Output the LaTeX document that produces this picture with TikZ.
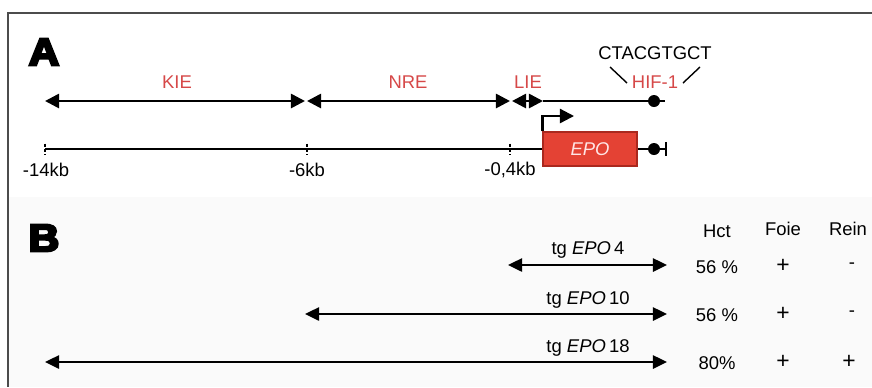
\documentclass[tikz,border=0pt]{standalone}
\usepackage{fontspec}
\setmainfont{Liberation Sans}
\newfontfamily\panelfont[FakeBold=6]{Liberation Sans Bold}
\usetikzlibrary{arrows.meta}
\definecolor{epored}{RGB}{228,66,52}
\definecolor{eporim}{RGB}{170,40,30}
\definecolor{labelred}{RGB}{214,72,72}
\definecolor{paneltint}{RGB}{250,250,250}
\tikzset{
  region/.style={line width=1.5pt, {Triangle[length=8pt,width=8pt]}-{Triangle[length=8pt,width=8pt]}},
  construct/.style={line width=1.2pt, {Triangle[length=8pt,width=7.5pt]}-{Triangle[length=8pt,width=7.5pt]}},
  chrom/.style={line width=1.1pt},
  tick/.style={line width=1pt, dash pattern=on 2pt off 1pt},
  site/.style={circle, fill=black, inner sep=0pt, minimum size=0.24cm},
  epobox/.style={draw=eporim, fill=epored, line width=0.6pt, minimum width=1.88cm, minimum height=0.68cm, inner sep=0pt, text=red!10},
  redlab/.style={text=labelred, font=\fontsize{10.5}{12}\selectfont},
  lab/.style={font=\fontsize{10.5}{12}\selectfont},
  sign/.style={font=\fontsize{13}{14}\selectfont},
  panel/.style={font=\panelfont\fontsize{22}{24}\selectfont, xscale=1.1},
}

\begin{document}
\begin{tikzpicture}[x=0.02cm, y=-0.02cm]
  \useasboundingbox (0,0) rectangle (872,387);
  % frame and shaded panel B
  \fill[paneltint] (8,197) rectangle (872,387);
  \draw[line width=0.7pt, black!70] (872,13) -- (8,13) -- (8,387);
  % panel letters
  \node[panel] (pA) at (44,52) {A};
  \node[panel] (pB) at (44,238) {B};
  % regulatory regions
  \coordinate (kieL) at (45,101);
  \coordinate (kieR) at (305,101);
  \coordinate (nreL) at (307,101);
  \coordinate (nreR) at (510,101);
  \coordinate (lieL) at (512,101);
  \coordinate (lieR) at (543,101);
  \coordinate (hifEnd) at (665,101);
  \draw[region] (kieL) -- (kieR);
  \draw[region] (nreL) -- (nreR);
  \draw[region] (lieL) -- (lieR);
  \draw[line width=1.5pt] (lieR) -- (hifEnd);
  \node[site] (hifA) at (654,101) {};
  \node[redlab] (kie) at (177,82) {KIE};
  \node[redlab] (nre) at (408,82) {NRE};
  \node[redlab] (lie) at (528,82) {LIE};
  \node[redlab] (hif) at (655,82) {HIF-1};
  \node[lab] (seq) at (655,53) {CTACGTGCT};
  \coordinate (sl1) at (610,67);
  \coordinate (sl2) at (627,83);
  \coordinate (sr1) at (683,83);
  \coordinate (sr2) at (700,67);
  \draw[line width=0.8pt] (sl1) -- (sl2);
  \draw[line width=0.8pt] (sr1) -- (sr2);
  % gene locus
  \node[epobox] (epo) at (590,149) {\fontsize{10.5}{12}\selectfont\itshape EPO};
  \coordinate (m14) at (45,149);
  \coordinate (m6) at (307,149);
  \coordinate (m04) at (510,149);
  \coordinate (locEnd) at (667,149);
  \draw[chrom] (m14) -- (epo.west);
  \draw[chrom, -{Bar[width=8pt]}] (epo.east) -- (locEnd);
  \node[site] (hifB) at (654,149) {};
  \foreach \p in {m14, m6, m04}
    \draw[tick] ([yshift=0.11cm]\p) -- ([yshift=-0.11cm]\p);
  \node[lab] (l14) at (46,170) {-14kb};
  \node[lab] (l6) at (307,170) {-6kb};
  \node[lab] (l04) at (510,170) {-0,4kb};
  \coordinate (tss) at (574,116);
  \draw[line width=1.3pt, -{Triangle[length=8pt,width=8pt]}] (epo.north west) |- (tss);
  % panel B header
  \node[lab] (hct) at (717,231) {Hct};
  \node[lab] (foie) at (783,229) {Foie};
  \node[lab] (rein) at (848,229) {Rein};
  % transgenes
  \coordinate (t4L) at (508,265);
  \coordinate (t4R) at (667,265);
  \coordinate (t10L) at (305,314);
  \coordinate (t10R) at (667,314);
  \coordinate (t18L) at (45,362);
  \coordinate (t18R) at (667,362);
  \draw[construct] (t4L) -- (t4R);
  \draw[construct] (t10L) -- (t10R);
  \draw[construct] (t18L) -- (t18R);
  \node[lab] (tg4) at (588,250) {tg \textit{EPO}\,4};
  \node[lab] (tg10) at (588,300) {tg \textit{EPO}\,10};
  \node[lab] (tg18) at (588,348) {tg \textit{EPO}\,18};
  % results
  \node[lab] (h4) at (717,267) {56 \%};
  \node[sign] (f4) at (783,266) {+};
  \node[lab] (r4) at (852,266) {-};
  \node[lab] (h10) at (717,315) {56 \%};
  \node[sign] (f10) at (783,314) {+};
  \node[lab] (r10) at (852,314) {-};
  \node[lab] (h18) at (717,363) {80\%};
  \node[sign] (f18) at (783,362) {+};
  \node[sign] (r18) at (849,362) {+};
\end{tikzpicture}
\end{document}
